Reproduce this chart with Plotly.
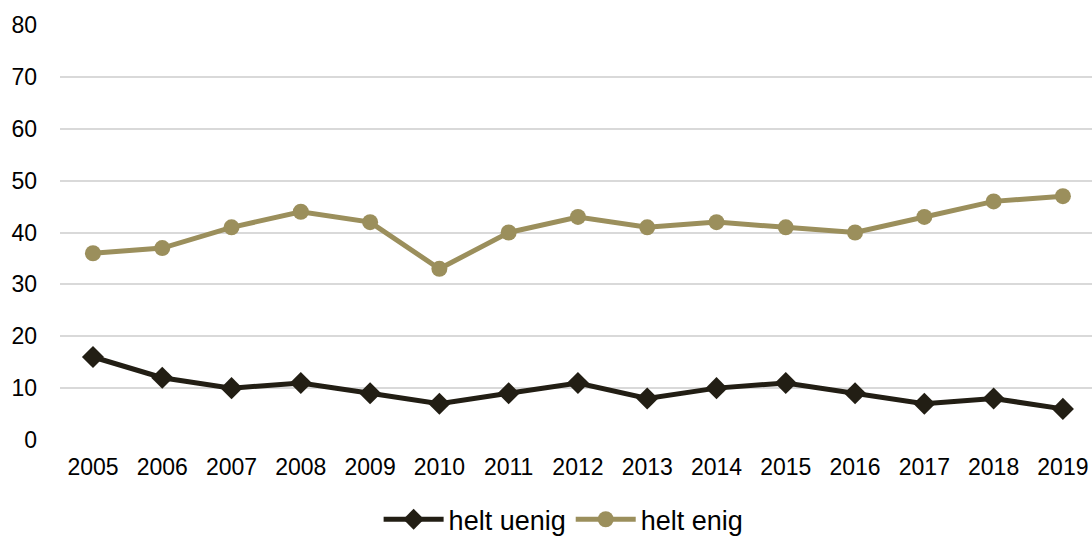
import plotly.graph_objects as go

years = ["2005","2006","2007","2008","2009","2010","2011","2012","2013","2014","2015","2016","2017","2018","2019"]
helt_uenig = [16, 12, 10, 11, 9, 7, 9, 11, 8, 10, 11, 9, 7, 8, 6]
helt_enig = [36, 37, 41, 44, 42, 33, 40, 43, 41, 42, 41, 40, 43, 46, 47]

fig = go.Figure()
fig.add_trace(go.Scatter(x=years, y=helt_uenig, name="helt uenig", mode="lines+markers",
                         line=dict(color="#221e14", width=5),
                         marker=dict(symbol="diamond", size=17, color="#221e14")))
fig.add_trace(go.Scatter(x=years, y=helt_enig, name="helt enig", mode="lines+markers",
                         line=dict(color="#9b8f5c", width=5),
                         marker=dict(symbol="circle", size=16, color="#9b8f5c")))

fig.update_layout(
    width=1092, height=536,
    margin=dict(l=60, r=0, t=25, b=96, autoexpand=False),
    paper_bgcolor="white", plot_bgcolor="white",
    font=dict(family="Liberation Sans, Arial, sans-serif", size=23, color="#000000"),
    showlegend=True,
    legend=dict(orientation="h", x=0.488, xanchor="center", y=-0.192, yanchor="middle",
                font=dict(size=27), itemwidth=60, tracegroupgap=0),
    xaxis=dict(type="category", range=[-0.476, 14.42], showgrid=False, zeroline=False,
               showline=False, ticks="", tickfont=dict(size=23), ticklabelstandoff=11),
    yaxis=dict(range=[0, 80], dtick=10, showgrid=True, gridcolor="#d9d9d9", gridwidth=2,
               zeroline=False, showline=False, ticks="", tickfont=dict(size=23),
               ticklabelstandoff=22),
)

fig.write_html("out.html", config={"displayModeBar": False},
               post_script="document.body.style.margin='0';document.body.style.overflow='hidden';")
